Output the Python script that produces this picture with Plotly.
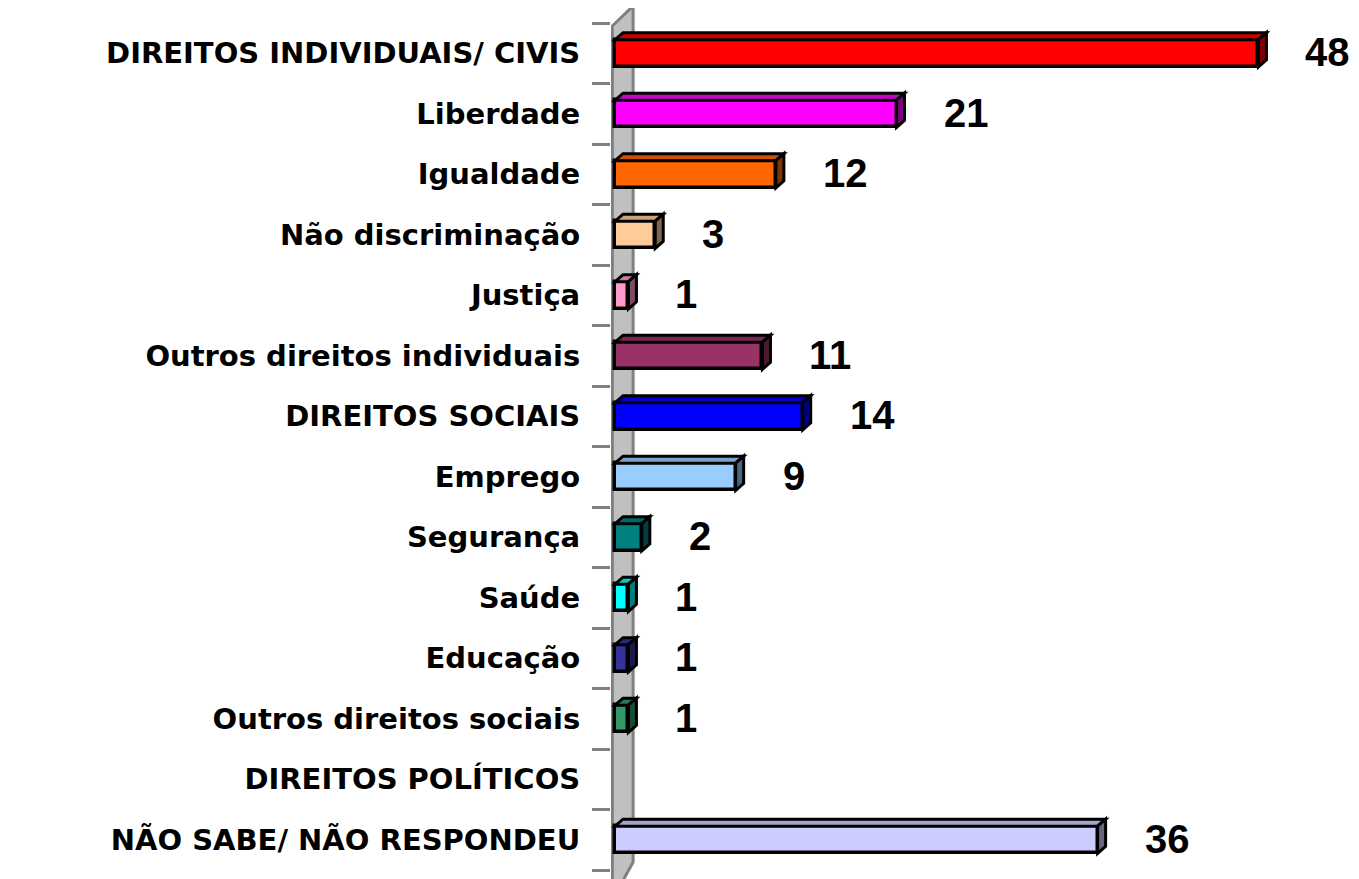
import plotly.graph_objects as go

categories = [
    "DIREITOS INDIVIDUAIS/ CIVIS",
    "Liberdade",
    "Igualdade",
    "Não discriminação",
    "Justiça",
    "Outros direitos individuais",
    "DIREITOS SOCIAIS",
    "Emprego",
    "Segurança",
    "Saúde",
    "Educação",
    "Outros direitos sociais",
    "DIREITOS POLÍTICOS",
    "NÃO SABE/ NÃO RESPONDEU",
]
values = [48, 21, 12, 3, 1, 11, 14, 9, 2, 1, 1, 1, None, 36]
colors = [
    "#FF0000", "#FF00FF", "#FF6600", "#FFCC99", "#FF99CC", "#993366",
    "#0000FF", "#99CCFF", "#008080", "#00FFFF", "#333399", "#339966",
    "#CCCCCC", "#CCCCFF",
]

# page body has an 8px margin; figure is sized so it fits the window
OFF = 8
W, H = 1359 - OFF, 879 - OFF
ML, MR, MT, MB = 611 - OFF, 4, 23 - OFF, 9
X_MIN, X_MAX = -0.3, 55.2
BAR_W = 0.45
n = len(categories)
idx = list(range(n))

plot_w = W - ML - MR
plot_h = H - MT - MB
px_per_x = plot_w / (X_MAX - X_MIN)
px_per_y = plot_h / n
DX = 8 / px_per_x      # depth in x data units
DY = 7 / px_per_y      # depth in y data units


def shade(hex_color, f):
    h = hex_color.lstrip("#")
    r, g, b = (int(h[i:i + 2], 16) for i in (0, 2, 4))
    return "#%02X%02X%02X" % (int(r * f), int(g * f), int(b * f))


fig = go.Figure()

fig.add_trace(go.Bar(
    x=values,
    y=idx,
    orientation="h",
    width=BAR_W,
    marker=dict(color=colors, line=dict(color="black", width=3.5)),
    hoverinfo="skip",
))

shapes = []


def py_to_paper(py_page):
    py = py_page - OFF
    return (H - MB - py) / plot_h


# wall (axis back plane)
shapes.append(dict(
    type="path", xref="x", yref="paper", layer="below",
    path="M %f,%f L %f,%f L %f,%f L %f,%f Z" % (
        -0.2, py_to_paper(26),
        1.35, py_to_paper(6),
        1.35, py_to_paper(862),
        -0.2, py_to_paper(900),
    ),
    fillcolor="#C0C0C0", line=dict(color="#808080", width=3),
))

for i, (v, c) in enumerate(zip(values, colors)):
    if v is None:
        continue
    yt = i - BAR_W / 2
    yb = i + BAR_W / 2
    top = "M %f,%f L %f,%f L %f,%f L %f,%f Z" % (0, yt, v, yt, v + DX, yt - DY, DX, yt - DY)
    side = "M %f,%f L %f,%f L %f,%f L %f,%f Z" % (v, yt, v + DX, yt - DY, v + DX, yb - DY, v, yb)
    shapes.append(dict(type="path", xref="x", yref="y", path=top,
                       fillcolor=shade(c, 0.8), line=dict(color="black", width=3)))
    shapes.append(dict(type="path", xref="x", yref="y", path=side,
                       fillcolor=shade(c, 0.5), line=dict(color="black", width=3)))

annotations = []
for i, v in enumerate(values):
    if v is None:
        continue
    annotations.append(dict(
        x=v, y=i, xref="x", yref="y", text=str(v), showarrow=False,
        xanchor="left", yanchor="middle", xshift=45, yshift=1,
        font=dict(family="Liberation Sans, Arial", size=40, color="black", weight="bold"),
    ))

fig.update_layout(
    width=W, height=H,
    margin=dict(l=ML, r=MR, t=MT, b=MB, pad=0),
    plot_bgcolor="white", paper_bgcolor="white",
    showlegend=False,
    shapes=shapes,
    annotations=annotations,
    bargap=0,
)
fig.update_xaxes(
    range=[X_MIN, X_MAX], visible=False, showgrid=False, zeroline=False,
)
fig.update_yaxes(
    range=[n - 0.5, -0.5],
    tickmode="array", tickvals=idx, ticktext=categories,
    ticks="outside", ticklen=18, tickwidth=3, tickcolor="rgba(0,0,0,0)",
    ticklabelstandoff=6,
    tickfont=dict(family="DejaVu Sans", size=29, color="black", weight="bold"),
    minor=dict(tickmode="array", tickvals=[k - 0.5 for k in range(n + 1)],
               ticks="outside", ticklen=18, tickwidth=3, tickcolor="#808080",
               showgrid=False),
    showgrid=False, zeroline=False, showline=False,
)

fig.write_html("out.html")
